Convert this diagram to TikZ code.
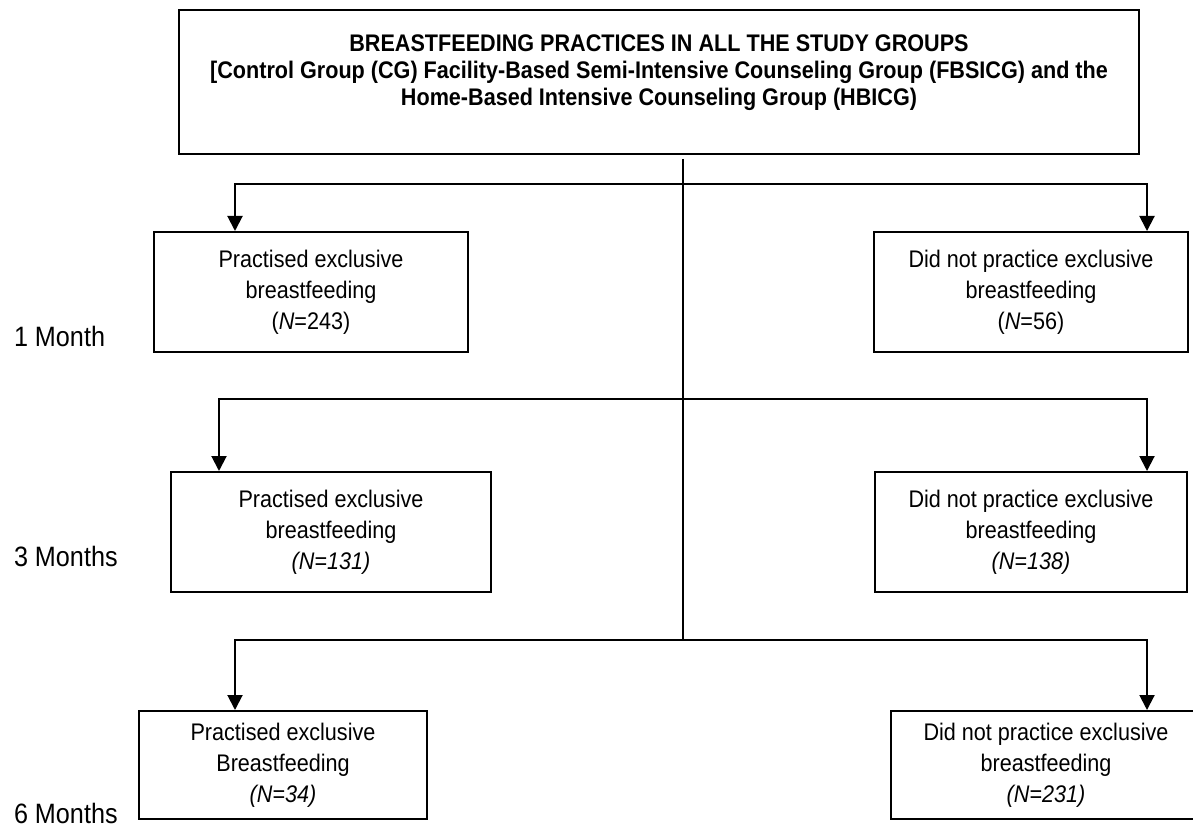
\documentclass[tikz,border=0pt]{standalone}
\usepackage{fontspec}
\setmainfont[FakeStretch=0.9]{Liberation Sans}
\usetikzlibrary{arrows.meta}

\begin{document}
\begin{tikzpicture}[x=0.5pt, y=-0.5pt, line width=1pt,
  box/.style={draw, rectangle, inner sep=0pt, align=center,
    font=\fontsize{12}{15.5}\selectfont},
  titletext/.style={inner sep=0pt, align=center, anchor=north,
    font=\fontsize{12}{13.5}\selectfont\bfseries},
  stage/.style={anchor=base west, inner sep=0pt, font=\fontsize{14}{16}\selectfont},
  split/.style={{Triangle[width=7.5pt,length=7.5pt]}-{Triangle[width=7.5pt,length=7.5pt]}, line join=miter}]
\useasboundingbox (0,0) rectangle (1193,828);

% heading box
\node[box, minimum width=480pt, minimum height=72pt] (top) at (659,82) {};
\node[titletext] (title) at (659,34) {BREASTFEEDING PRACTICES IN ALL THE STUDY GROUPS\\
  {[}Control Group (CG) Facility-Based Semi-Intensive Counseling Group (FBSICG) and the\\
  Home-Based Intensive Counseling Group (HBICG)};

% outcome boxes
\node[box, minimum width=157pt, minimum height=60pt] (b1l) at (311,292)
  {Practised exclusive\\ breastfeeding\\ (\textit{N}=243)};
\node[box, minimum width=157pt, minimum height=60pt] (b1r) at (1031,292)
  {Did not practice exclusive\\ breastfeeding\\ (\textit{N}=56)};
\node[box, minimum width=160pt, minimum height=60pt] (b2l) at (331,532)
  {Practised exclusive\\ breastfeeding\\ \textit{(N=131)}};
\node[box, minimum width=156pt, minimum height=60pt] (b2r) at (1031,532)
  {Did not practice exclusive\\ breastfeeding\\ \textit{(N=138)}};
\node[box, minimum width=144pt, minimum height=54pt] (b3l) at (283,765)
  {Practised exclusive\\ Breastfeeding\\ \textit{(N=34)}};
\node[box, minimum width=155pt, minimum height=54pt] (b3r) at (1046,765)
  {Did not practice exclusive\\ breastfeeding\\ \textit{(N=231)}};

% stage labels
\node[stage] (m1) at (13,347) {1 Month};
\node[stage] (m3) at (13,566) {3 Months};
\node[stage] (m6) at (13,823) {6 Months};

% trunk and branch points
\coordinate (t0) at (683,159);
\coordinate (t3) at (683,640);
\coordinate (h1l) at (235,184);
\coordinate (h1r) at (1147,184);
\coordinate (h2l) at (219,399);
\coordinate (h2r) at (1147,399);
\coordinate (h3l) at (235,640);
\coordinate (h3r) at (1147,640);

\draw (t0) -- (t3);
\draw[split] (h1l |- b1l.north) -- (h1l) -- (h1r) -- (h1r |- b1r.north);
\draw[split] (h2l |- b2l.north) -- (h2l) -- (h2r) -- (h2r |- b2r.north);
\draw[split] (h3l |- b3l.north) -- (h3l) -- (h3r) -- (h3r |- b3r.north);
\end{tikzpicture}
\end{document}
